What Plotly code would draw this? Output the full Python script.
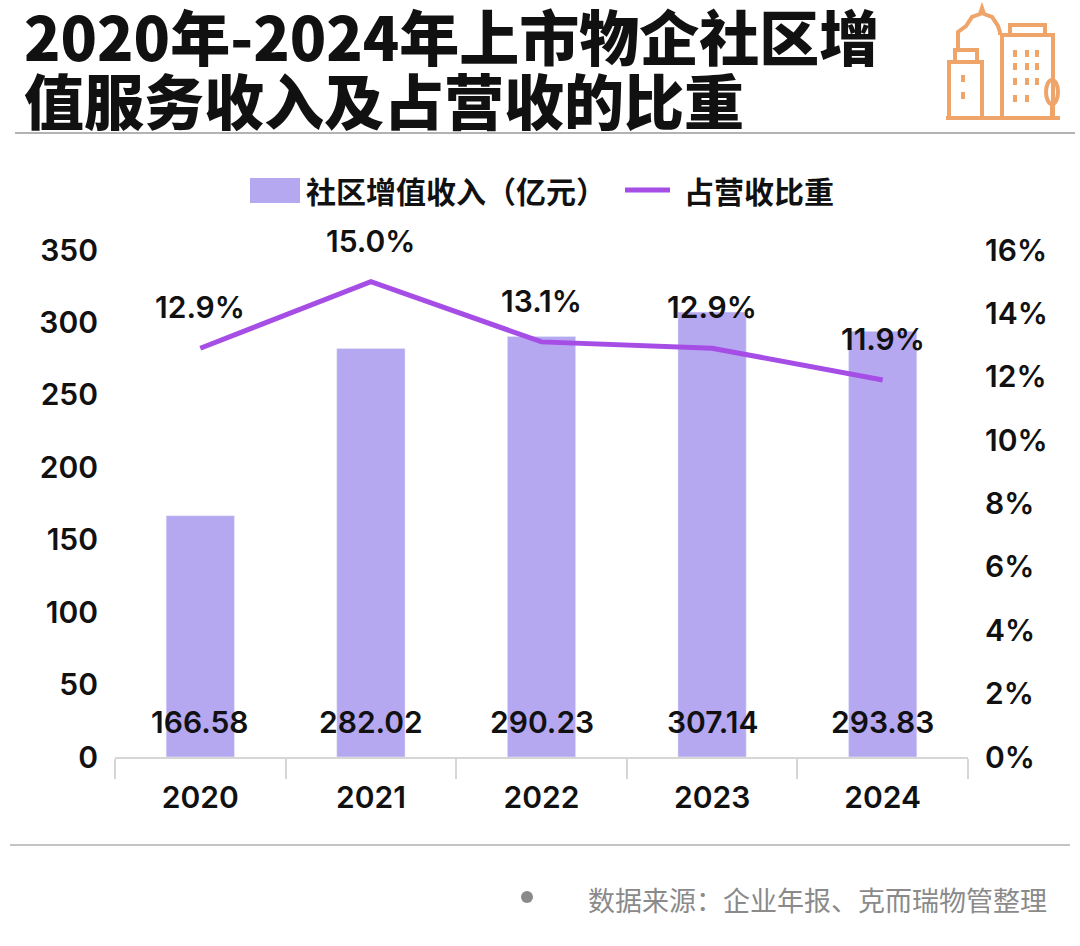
import plotly.graph_objects as go

# data
years = ['2020', '2021', '2022', '2023', '2024']
income = [166.58, 282.02, 290.23, 307.14, 293.83]      # 社区增值收入（亿元）
share = [0.129, 0.150, 0.131, 0.129, 0.119]            # 占营收比重

BAR_COLOR = '#b5a8f0'
LINE_COLOR = '#a64de6'
ICON_COLOR = '#efa46a'
FONT = 'Noto Sans CJK SC'
NUM_FONT = 'Inter'

W, H = 1080, 946
ML, MR, MT, MB = 115, 112, 250, 189
PW, PH = W - ML - MR, H - MT - MB


def px(x, y):
    # pixel position -> paper coords
    return (x - ML) / PW, (H - MB - y) / PH


fig = go.Figure()

fig.add_trace(go.Bar(
    x=years, y=income, name='社区增值收入（亿元）',
    marker_color=BAR_COLOR, width=0.4, showlegend=False,
))
fig.add_trace(go.Scatter(
    x=years, y=share, name='占营收比重', yaxis='y2', mode='lines',
    line=dict(color=LINE_COLOR, width=5), showlegend=False,
))

numfont = dict(family=NUM_FONT, size=30, color='#111', weight=600)

annotations = []
# bar value labels near the base
for i, v in enumerate(income):
    annotations.append(dict(
        x=i, y=0, xref='x', yref='y', text=f'{v:.2f}', showarrow=False,
        yshift=35, font=numfont,
    ))
# percentage labels above line points
for i, s in enumerate(share):
    annotations.append(dict(
        x=i, y=s, xref='x', yref='y2', text=f'{s * 100:.1f}%', showarrow=False,
        yshift=41, font=numfont,
    ))

# title
for i, line in enumerate(['2020年-2024年上市物企社区增', '值服务收入及占营收的比重']):
    x0, y0 = px(22, 34 + i * 64)
    annotations.append(dict(
        x=x0, y=y0, xref='paper', yref='paper', text=line, showarrow=False,
        xanchor='left', yanchor='middle',
        font=dict(family=FONT, size=60, color='#111', weight=900),
    ))

# custom legend
lx, ly = px(304, 190)
annotations.append(dict(x=lx, y=ly, xref='paper', yref='paper', text='社区增值收入（亿元）',
                        showarrow=False, xanchor='left', yanchor='middle',
                        font=dict(family=FONT, size=30, color='#111', weight='bold')))
lx, ly = px(682, 190)
annotations.append(dict(x=lx, y=ly, xref='paper', yref='paper', text='占营收比重',
                        showarrow=False, xanchor='left', yanchor='middle',
                        font=dict(family=FONT, size=30, color='#111', weight='bold')))

# source
sx, sy = px(586, 900)
annotations.append(dict(x=sx, y=sy, xref='paper', yref='paper', text='数据来源：企业年报、克而瑞物管整理',
                        showarrow=False, xanchor='left', yanchor='middle',
                        font=dict(family=FONT, size=27, color='#8a8a8a')))

shapes = []


def rect(x0, y0, x1, y1, **kw):
    a, b = px(x0, y0)
    c, d = px(x1, y1)
    s = dict(type='rect', xref='paper', yref='paper', x0=a, y0=b, x1=c, y1=d)
    s.update(kw)
    shapes.append(s)


def hline(x0, x1, y, color, width):
    a, b = px(x0, y)
    c, _ = px(x1, y)
    shapes.append(dict(type='line', xref='paper', yref='paper', x0=a, x1=c, y0=b, y1=b,
                       line=dict(color=color, width=width)))


hline(15, 1075, 133, '#9a9a9a', 1.5)
hline(10, 1070, 845, '#b0b0b0', 1.5)

# legend swatches
rect(250, 178, 300, 203, fillcolor=BAR_COLOR, line=dict(width=0))
hline(625, 670, 190, LINE_COLOR, 5)

# source dot
a, b = px(521, 891)
c, d = px(533, 903)
shapes.append(dict(type='circle', xref='paper', yref='paper', x0=a, y0=b, x1=c, y1=d,
                   fillcolor='#8a8a8a', line=dict(width=0)))

# building icon
ol = dict(color=ICON_COLOR, width=4)
rect(949, 62, 982, 118, line=ol)
rect(955, 50, 977, 62, line=ol)
rect(1002, 35, 1053, 118, line=ol)
rect(1010, 25, 1045, 35, line=ol)
hline(946, 1060, 118, ICON_COLOR, 4)
# dome tower
pts = [(958, 50), (958, 32), (966, 26), (972, 17), (980, 14), (982, 8),
       (984, 14), (992, 17), (998, 26), (1000, 32), (1000, 35)]
path = 'M ' + ' L '.join(f'{px(x, y)[0]:.5f},{px(x, y)[1]:.5f}' for x, y in pts)
shapes.append(dict(type='path', xref='paper', yref='paper', path=path, line=ol))
# windows
for wx in (1015, 1027, 1037):
    for wy in (50, 63, 78, 95):
        if wx == 1037 and wy == 95:
            continue
        rect(wx - 2, wy, wx + 2, wy + 7, fillcolor=ICON_COLOR, line=dict(width=0))
for wy in (75, 92):
    rect(961, wy, 965, wy + 7, fillcolor=ICON_COLOR, line=dict(width=0))
# tree
a, b = px(1046, 80)
c, d = px(1058, 104)
shapes.append(dict(type='circle', xref='paper', yref='paper', x0=a, y0=b, x1=c, y1=d, line=ol))
a, b = px(1052, 104)
_, d = px(1052, 118)
shapes.append(dict(type='line', xref='paper', yref='paper', x0=a, x1=a, y0=b, y1=d, line=ol))

tickfont = dict(family=NUM_FONT, size=30, color='#111', weight=600)

fig.update_layout(
    width=W, height=H,
    margin=dict(l=ML, r=MR, t=MT, b=MB),
    plot_bgcolor='white', paper_bgcolor='white',
    showlegend=False,
    bargap=0.6,
    xaxis=dict(
        type='category', range=[-0.5, len(years) - 0.5],
        showgrid=False, showline=True, linecolor='#d6d6d6', linewidth=2,
        ticks='outside', tickson='boundaries', ticklen=20, tickcolor='#d6d6d6', tickwidth=1.5,
        tickfont=tickfont, ticklabelstandoff=13,
    ),
    yaxis=dict(
        range=[0, 350], dtick=50, showgrid=False, zeroline=False, showline=False,
        tickfont=tickfont, ticklabelstandoff=16,
    ),
    yaxis2=dict(
        range=[0, 0.16], dtick=0.02, tickformat='.0%', overlaying='y', side='right',
        showgrid=False, zeroline=False, showline=False,
        tickfont=tickfont, ticklabelstandoff=16,
    ),
    annotations=annotations,
    shapes=shapes,
)

fig.write_html('out.html', config={'displayModeBar': False},
               post_script="document.body.style.margin='0';")
